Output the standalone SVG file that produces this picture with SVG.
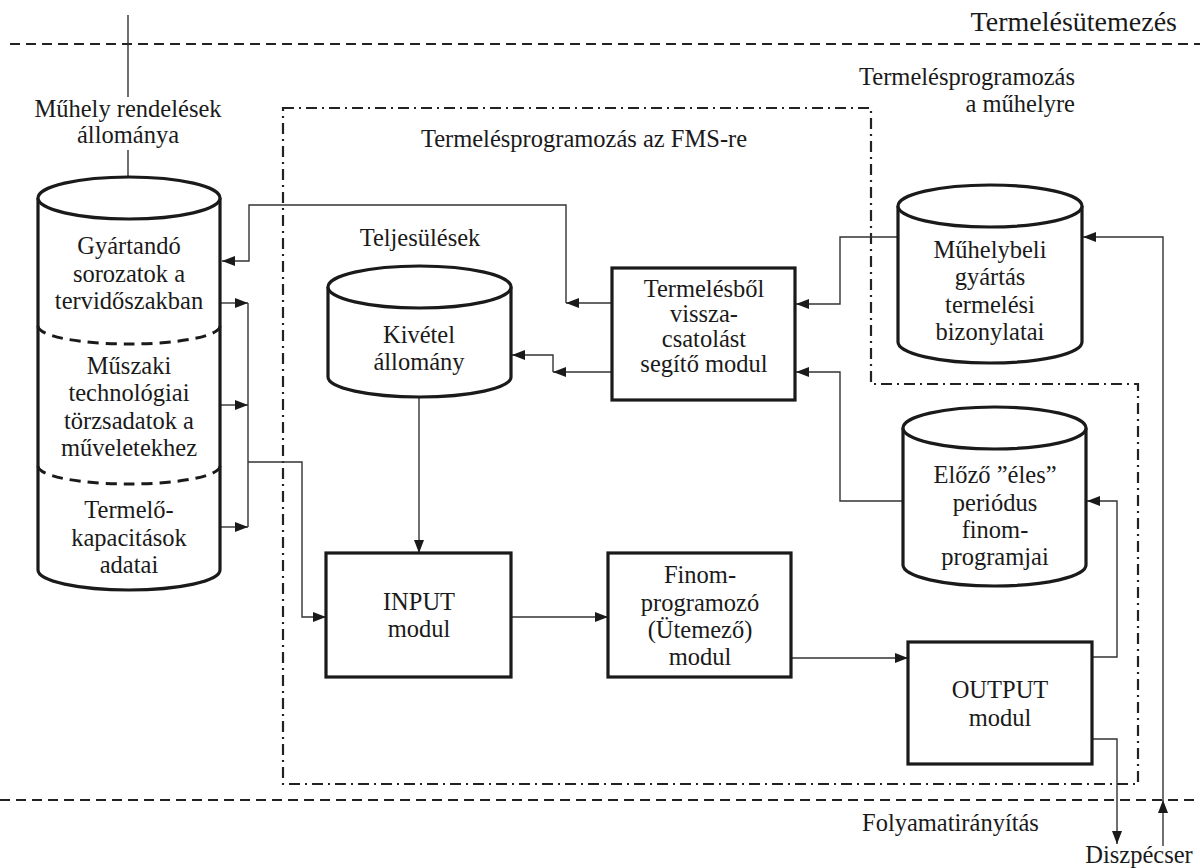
<svg xmlns="http://www.w3.org/2000/svg" width="1200" height="868" viewBox="0 0 1200 868">
  <style>
    text { font-family: 'Liberation Serif', 'DejaVu Serif', serif; font-size: 24.5px; fill: #1a1a1a; text-anchor: middle; }
    .end { text-anchor: end; }
    .start { text-anchor: start; }
    .title { font-size: 28px; }
    .box { fill: #ffffff; stroke: #1a1a1a; stroke-width: 3.2; }
    .db { fill: #ffffff; stroke: #1a1a1a; stroke-width: 3.2; }
    .split { fill: none; stroke: #1a1a1a; stroke-width: 3; stroke-dasharray: 11 7; }
    .wire { fill: none; stroke: #333333; stroke-width: 1.4; }
    .arrow { fill: none; stroke: #333333; stroke-width: 1.4; marker-end: url(#head); }
    .level { fill: none; stroke: #222222; stroke-width: 2; stroke-dasharray: 10 6; }
    .frame { fill: none; stroke: #222222; stroke-width: 2.2; stroke-dasharray: 11 5 2 5; }
  </style>
  <defs>
    <marker id="head" markerUnits="userSpaceOnUse" markerWidth="14" markerHeight="12" refX="13" refY="6" orient="auto">
      <path d="M0,1 L13,6 L0,11 Z" fill="#1a1a1a"/>
    </marker>
  </defs>

  <rect x="0" y="0" width="1200" height="868" fill="#ffffff"/>

  <!-- level boundaries -->
  <g id="levels">
    <line class="level" x1="10" y1="44" x2="1200" y2="44"/>
    <line class="level" x1="0" y1="800" x2="1200" y2="800"/>
    <text class="end title" x="1177" y="31" font-family="Liberation Serif, serif">Termelésütemezés</text>
    <text class="start" x="862" y="831">Folyamatirányítás</text>
  </g>

  <!-- FMS scope -->
  <g id="fms-frame">
    <path class="frame" d="M283,108 H871 V384 H1138 V784 H283 Z"/>
    <text x="584" y="147">Termelésprogramozás az FMS-re</text>
    <text class="end" x="1075" y="85">Termelésprogramozás</text>
    <text class="end" x="1075" y="112">a műhelyre</text>
  </g>

  <!-- connectors -->
  <g id="connectors">
    <line class="wire" x1="128" y1="15" x2="128" y2="97"/>
    <line class="arrow" x1="128" y1="150" x2="128" y2="201"/>

    <line class="arrow" x1="220" y1="303" x2="248" y2="303"/>
    <line class="arrow" x1="220" y1="405" x2="248" y2="405"/>
    <line class="arrow" x1="220" y1="527" x2="248" y2="527"/>
    <line class="wire" x1="248" y1="303" x2="248" y2="527"/>
    <polyline class="arrow" points="248,462 302,462 302,617 326,617"/>

    <line class="arrow" x1="612" y1="303" x2="566" y2="303"/>
    <polyline class="arrow" points="566,303 566,205 249,205 249,261 222,261"/>

    <line class="arrow" x1="612" y1="372" x2="553" y2="372"/>
    <polyline class="arrow" points="553,372 553,355 512,355"/>

    <polyline class="arrow" points="898,237 840,237 840,304 796,304"/>
    <polyline class="arrow" points="903,501 840,501 840,372 796,372"/>

    <line class="arrow" x1="419" y1="398" x2="419" y2="553"/>
    <line class="arrow" x1="511" y1="617" x2="608" y2="617"/>
    <line class="arrow" x1="791" y1="658" x2="908" y2="658"/>

    <polyline class="arrow" points="1092,657 1117,657 1117,501 1087,501"/>
    <polyline class="arrow" points="1092,739 1117,739 1117,844"/>

    <line class="arrow" x1="1163" y1="846" x2="1163" y2="800"/>
    <polyline class="arrow" points="1163,800 1163,237 1083,237"/>
  </g>

  <text x="128" y="117">Műhely rendelések</text>
  <text x="128" y="143">állománya</text>

  <!-- planning data store -->
  <g id="plan-store">
    <path class="db" d="M38,198 V570 A91,20 0 0 0 220,570 V198"/>
    <ellipse class="db" cx="129" cy="198" rx="91" ry="21"/>
    <path class="split" d="M38,326 A91,18 0 0 0 220,326"/>
    <path class="split" d="M38,466 A91,18 0 0 0 220,466"/>
    <text x="129" y="254">Gyártandó</text>
    <text x="129" y="282">sorozatok a</text>
    <text x="129" y="309">tervidőszakban</text>
    <text x="129" y="374">Műszaki</text>
    <text x="129" y="401">technológiai</text>
    <text x="129" y="429">törzsadatok a</text>
    <text x="129" y="456">műveletekhez</text>
    <text x="129" y="518">Termelő-</text>
    <text x="129" y="546">kapacitások</text>
    <text x="129" y="573">adatai</text>
  </g>

  <!-- exceptions store -->
  <g id="exceptions">
    <text x="420" y="246">Teljesülések</text>
    <path class="db" d="M328,287 V377 A91.5,20 0 0 0 511,377 V287"/>
    <ellipse class="db" cx="419.5" cy="287" rx="91.5" ry="21"/>
    <text x="419" y="343">Kivétel</text>
    <text x="419" y="370">állomány</text>
  </g>

  <!-- feedback module -->
  <g id="feedback">
    <rect class="box" x="612" y="268" width="183" height="132"/>
    <text x="704" y="297">Termelésből</text>
    <text x="704" y="322">vissza-</text>
    <text x="704" y="347">csatolást</text>
    <text x="704" y="372">segítő modul</text>
  </g>

  <!-- shop floor documents -->
  <g id="shop-docs">
    <path class="db" d="M898,206 V342 A92,21 0 0 0 1082,342 V206"/>
    <ellipse class="db" cx="990" cy="206" rx="92" ry="21"/>
    <text x="990" y="258">Műhelybeli</text>
    <text x="990" y="285">gyártás</text>
    <text x="990" y="313">termelési</text>
    <text x="990" y="340">bizonylatai</text>
  </g>

  <!-- previous schedules -->
  <g id="prev-schedules">
    <path class="db" d="M903,428 V565 A91.5,21 0 0 0 1086,565 V428"/>
    <ellipse class="db" cx="994.5" cy="428" rx="91.5" ry="21"/>
    <text x="995" y="483">Előző ”éles”</text>
    <text x="995" y="511">periódus</text>
    <text x="995" y="538">finom-</text>
    <text x="995" y="565">programjai</text>
  </g>

  <!-- input module -->
  <g id="input">
    <rect class="box" x="326" y="553" width="185" height="124"/>
    <text x="419" y="610">INPUT</text>
    <text x="419" y="637">modul</text>
  </g>

  <!-- scheduler module -->
  <g id="scheduler">
    <rect class="box" x="608" y="553" width="183" height="124"/>
    <text x="700" y="583">Finom-</text>
    <text x="700" y="611">programozó</text>
    <text x="700" y="638">(Ütemező)</text>
    <text x="700" y="665">modul</text>
  </g>

  <!-- output module -->
  <g id="output">
    <rect class="box" x="908" y="642" width="184" height="122"/>
    <text x="1000" y="698">OUTPUT</text>
    <text x="1000" y="726">modul</text>
  </g>

  <g id="dispatcher">
    <text x="1139" y="863">Diszpécser</text>
  </g>
</svg>
